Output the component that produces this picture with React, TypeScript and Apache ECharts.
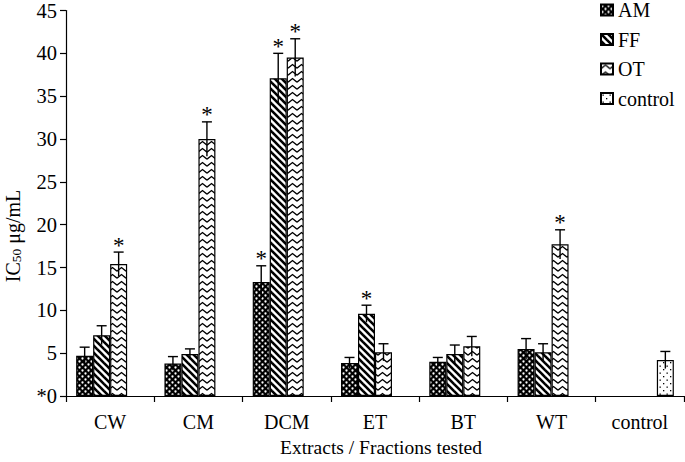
import React, { useEffect, useRef } from 'react';
import * as echarts from 'echarts';

const CATEGORIES = ['CW', 'CM', 'DCM', 'ET', 'BT', 'WT', 'control'];
const SERIES_NAMES = ['AM', 'FF', 'OT', 'control'];

const AM_VALUES = [4.7, 3.8, 13.3, 3.85, 4.0, 5.5, null];
const FF_VALUES = [7.1, 4.9, 37.1, 9.6, 4.9, 5.1, null];
const OT_VALUES = [15.4, 30.0, 39.5, 5.1, 5.8, 17.7, null];
const CONTROL_VALUES = [null, null, null, null, null, null, 4.2];

const AM_ERRORS = [1.0, 0.8, 1.9, 0.65, 0.5, 1.2, null];
const FF_ERRORS = [1.1, 0.6, 2.9, 1.0, 1.05, 1.0, null];
const OT_ERRORS = [1.4, 2.0, 2.2, 1.0, 1.15, 1.7, null];
const CONTROL_ERRORS = [null, null, null, null, null, null, 1.0];

const AM_STARS = [false, false, true, false, false, false, false];
const FF_STARS = [false, false, true, true, false, false, false];
const OT_STARS = [true, true, true, false, false, true, false];
const CONTROL_STARS = [false, false, false, false, false, false, false];

const Y_MIN = 0;
const Y_MAX = 45;
const Y_INTERVAL = 5;

const X_TITLE = 'Extracts / Fractions tested';

const FONT = 'Liberation Serif';
const GAP = 0.23;

function makeCanvas(w: number, h: number, draw: (ctx: CanvasRenderingContext2D) => void) {
  const c = document.createElement('canvas');
  c.width = w;
  c.height = h;
  const ctx = c.getContext('2d') as CanvasRenderingContext2D;
  draw(ctx);
  return { image: c, repeat: 'repeat', imageWidth: w, imageHeight: h } as any;
}

function buildPatterns() {
  const am = makeCanvas(6, 6, (ctx) => {
    ctx.fillStyle = '#000';
    ctx.fillRect(0, 0, 6, 6);
    ctx.fillStyle = '#fff';
    ctx.beginPath();
    ctx.arc(1.5, 1.5, 1.15, 0, Math.PI * 2);
    ctx.fill();
    ctx.beginPath();
    ctx.arc(4.5, 4.5, 1.15, 0, Math.PI * 2);
    ctx.fill();
  });
  const ff = makeCanvas(7, 7, (ctx) => {
    ctx.fillStyle = '#fff';
    ctx.fillRect(0, 0, 7, 7);
    ctx.strokeStyle = '#000';
    ctx.lineWidth = 2.6;
    for (const off of [-7, 0, 7]) {
      ctx.beginPath();
      ctx.moveTo(off - 1, -1);
      ctx.lineTo(off + 8, 8);
      ctx.stroke();
    }
  });
  const ot = makeCanvas(9, 7, (ctx) => {
    ctx.fillStyle = '#fff';
    ctx.fillRect(0, 0, 9, 7);
    ctx.strokeStyle = '#000';
    ctx.lineWidth = 1.3;
    ctx.beginPath();
    ctx.moveTo(0, 5.2);
    ctx.lineTo(4.5, 1.6);
    ctx.lineTo(9, 5.2);
    ctx.stroke();
  });
  const ctrl = makeCanvas(7, 7, (ctx) => {
    ctx.fillStyle = '#fff';
    ctx.fillRect(0, 0, 7, 7);
    ctx.fillStyle = '#000';
    ctx.fillRect(1.5, 1.5, 1.3, 1.3);
    ctx.fillRect(5, 5, 1.3, 1.3);
  });
  return [am, ff, ot, ctrl];
}

export default function App() {
  const ref = useRef<HTMLDivElement>(null);

  useEffect(() => {
    if (!ref.current) return;
    const chart = echarts.init(ref.current, undefined, { renderer: 'svg' });
    const patterns = buildPatterns();
    const values = [AM_VALUES, FF_VALUES, OT_VALUES, CONTROL_VALUES];
    const errors = [AM_ERRORS, FF_ERRORS, OT_ERRORS, CONTROL_ERRORS];
    const stars = [AM_STARS, FF_STARS, OT_STARS, CONTROL_STARS];

    const errData: any[] = [];
    values.forEach((vals, si) => {
      vals.forEach((v, ci) => {
        if (v == null) return;
        errData.push([ci, v, errors[si][ci] ?? 0, stars[si][ci] ? 1 : 0, si]);
      });
    });

    const barSeries = SERIES_NAMES.map((name, si) => ({
      name,
      type: 'bar',
      data: values[si],
      barGap: '0%',
      barCategoryGap: `${GAP * 100}%`,
      itemStyle: {
        color: patterns[si],
        borderColor: '#000',
        borderWidth: 1.2,
      },
      emphasis: { disabled: true },
    }));

    const option: any = {
      animation: false,
      textStyle: { fontFamily: FONT },
      grid: { left: 66, right: 1, top: 10, bottom: 59, containLabel: false },
      legend: {
        data: SERIES_NAMES,
        orient: 'vertical',
        left: 600,
        top: 0,
        padding: 0,
        icon: 'rect',
        itemWidth: 12,
        itemHeight: 11,
        itemGap: 9.5,
        selectedMode: false,
        textStyle: { fontFamily: FONT, fontSize: 20, color: '#000', lineHeight: 20 },
      },
      xAxis: {
        type: 'category',
        data: CATEGORIES,
        name: X_TITLE,
        nameLocation: 'middle',
        nameGap: 41,
        nameTextStyle: { fontFamily: FONT, fontSize: 19.5, color: '#000', padding: [0, 0, 0, 12] },
        axisLine: { lineStyle: { color: '#000', width: 1.2 } },
        axisTick: { show: true, length: 6, alignWithLabel: false, lineStyle: { color: '#000', width: 1.2 } },
        axisLabel: { fontFamily: FONT, fontSize: 20, color: '#000', margin: 16 },
        splitLine: { show: false },
      },
      yAxis: {
        type: 'value',
        min: Y_MIN,
        max: Y_MAX,
        interval: Y_INTERVAL,
        axisLine: { show: true, lineStyle: { color: '#000', width: 1.2 } },
        axisTick: { show: true, length: 6, inside: false, lineStyle: { color: '#000', width: 1.2 } },
        axisLabel: {
          fontFamily: FONT,
          fontSize: 20.5,
          color: '#000',
          margin: 9,
          formatter: (v: number) => (v === 0 ? '*0' : String(v)),
        },
        splitLine: { show: false },
      },
      graphic: [
        {
          type: 'text',
          x: 13,
          y: 236,
          rotation: Math.PI / 2,
          style: {
            text: '{a|IC}{b|50}{a| μg/mL}',
            align: 'center',
            verticalAlign: 'middle',
            rich: {
              a: { fontFamily: FONT, fontSize: 20, fill: '#000' },
              b: { fontFamily: FONT, fontSize: 13.5, fill: '#000', verticalAlign: 'bottom', padding: [6, 0, 0, 0] },
            },
          },
        },
      ],
      series: [
        ...barSeries,
        {
          type: 'custom',
          name: 'errors',
          data: errData,
          encode: { x: 0, y: 1 },
          z: 10,
          silent: true,
          renderItem: (params: any, api: any) => {
            const ci = api.value(0);
            const v = api.value(1);
            const e = api.value(2);
            const star = api.value(3);
            const si = api.value(4);
            const center = api.coord([ci, v]);
            const top = api.coord([ci, v + e]);
            const bottom = api.coord([ci, Math.max(0, v - e)]);
            const band = api.size([1, 0])[0];
            const used = band * (1 - GAP);
            const bw = used / 4;
            const x = center[0] - used / 2 + (si + 0.5) * bw;
            const children: any[] = [
              {
                type: 'line',
                shape: { x1: x, y1: bottom[1], x2: x, y2: top[1] },
                style: { stroke: '#000', lineWidth: 1.4 },
              },
              {
                type: 'line',
                shape: { x1: x - 5, y1: top[1], x2: x + 5, y2: top[1] },
                style: { stroke: '#000', lineWidth: 1.4 },
              },
            ];
            if (star) {
              children.push({
                type: 'text',
                x: x,
                y: top[1] - 7,
                style: {
                  text: '*',
                  fontFamily: FONT,
                  fontSize: 23,
                  fill: '#000',
                  align: 'center',
                  verticalAlign: 'middle',
                },
              });
            }
            return { type: 'group', children };
          },
        },
      ],
    };

    chart.setOption(option);
    return () => chart.dispose();
  }, []);

  return (
    <div
      ref={ref}
      style={{ position: 'fixed', left: 0, top: 0, width: 685, height: 462, background: '#fff' }}
    />
  );
}
